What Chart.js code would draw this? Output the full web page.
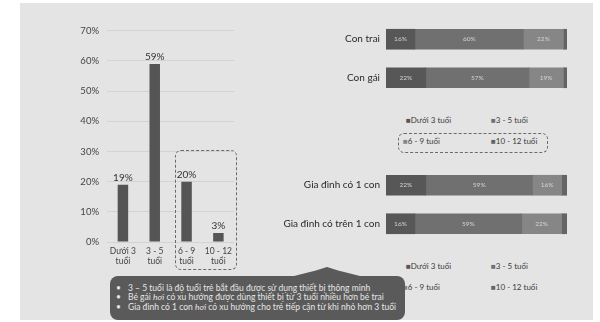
<!DOCTYPE html>
<html>
<head>
<meta charset="utf-8">
<script src="https://cdn.jsdelivr.net/npm/chart.js"></script>
<style>
  body { margin: 0; background: #fff; font-family: Lato, "Noto Sans", sans-serif; }
  #panel { position: absolute; left: 20px; top: 3px; width: 573px; height: 317px; background: #e4e4e4; }
  .box { position: absolute; }
  .dash { position: absolute; border: 1px dashed #6a6a6a; border-radius: 6px; }
  .legend { position: absolute; font-size: 8px; color: #3a3a3a; white-space: nowrap; }
  .legend span { position: absolute; }
  .legend i { font-style: normal; }
  #callout { position: absolute; left: 110px; top: 276px; width: 295px; height: 44px; background: #5a5a5a;
             border-radius: 8px; color: #e6e6e6; font-size: 8.5px; line-height: 9.6px; padding-top: 7.5px; box-sizing: border-box; }
  #callout div { position: relative; padding-left: 18px; white-space: nowrap; }
  #callout div b { position: absolute; left: 6px; font-weight: normal; }
  #pointer { position: absolute; left: 290px; top: 267px; width: 74px; height: 10px; background: #5a5a5a;
             clip-path: polygon(0 100%, 35% 35%, 50% 0, 65% 35%, 100% 100%); }
</style>
</head>
<body>
<div id="panel"></div>

<div class="box" style="left:60px;top:17px;width:176px;height:253px"><canvas id="ages"></canvas></div>
<div class="box" style="left:270px;top:8px;width:297px;height:101px"><canvas id="gender"></canvas></div>
<div class="box" style="left:270px;top:154px;width:297px;height:101px"><canvas id="family"></canvas></div>

<div class="dash" style="left:175px;top:150px;width:60px;height:118px"></div>
<div class="dash" style="left:398px;top:133px;width:148px;height:18px"></div>

<div class="legend" id="legend1" style="left:403px;top:115px"></div>
<div class="legend" id="legend2" style="left:403px;top:261px"></div>

<div id="pointer"></div>
<div id="callout">
  <div><b>•</b>3 – 5 tuổi là độ tuổi trẻ bắt đầu được sử dụng thiết bị thông minh</div>
  <div><b>•</b>Bé gái <em>hơi</em> có xu hướng được dùng thiết bị từ 3 tuổi nhiều hơn bé trai</div>
  <div><b>•</b>Gia đình có 1 con <em>hơi</em> có xu hướng cho trẻ tiếp cận từ khi nhỏ hơn 3 tuổi</div>
</div>

<script>
// left chart: share of kids by age at first use
const ageGroups = ['Dưới 3 tuổi', '3 - 5 tuổi', '6 - 9 tuổi', '10 - 12 tuổi'];
const ageTicks = [['Dưới 3', 'tuổi'], ['3 - 5', 'tuổi'], ['6 - 9', 'tuổi'], ['10 - 12', 'tuổi']];
const ageShare = [19, 59, 20, 3];
const ageAxisMax = 70;
const ageAxisStep = 10;

// right charts: stacked shares
const genderGroups = ['Con trai', 'Con gái'];
const genderUnder3 = [16, 22];
const gender3to5 = [60, 57];
const gender6to9 = [22, 19];
const gender10to12 = [2, 2];

const familyGroups = ['Gia đình có 1 con', 'Gia đình có trên 1 con'];
const familyUnder3 = [22, 16];
const family3to5 = [59, 59];
const family6to9 = [16, 22];
const family10to12 = [3, 3];

const segColors = ['#575757', '#707070', '#868686', '#646464'];

Chart.defaults.font.family = 'Lato, "Noto Sans", sans-serif';
Chart.defaults.animation = false;

const valueLabels = {
  id: 'valueLabels',
  afterDatasetsDraw(chart, args, opts) {
    const ctx = chart.ctx;
    ctx.save();
    chart.data.datasets.forEach((ds, di) => {
      chart.getDatasetMeta(di).data.forEach((bar, i) => {
        const v = ds.data[i];
        if (opts.inside) {
          if (v < 5) return;
          ctx.font = '6.5px Lato, sans-serif';
          ctx.fillStyle = '#d4d4d4';
          ctx.textAlign = 'center';
          ctx.textBaseline = 'middle';
          ctx.fillText(v + '%', (bar.base + bar.x) / 2, bar.y);
        } else {
          ctx.font = '10px Lato, sans-serif';
          ctx.fillStyle = '#333';
          ctx.textAlign = 'center';
          ctx.textBaseline = 'bottom';
          ctx.fillText(v + '%', bar.x, bar.y - 2);
        }
      });
    });
    ctx.restore();
  }
};

new Chart(document.getElementById('ages'), {
  type: 'bar',
  data: {
    labels: ageTicks,
    datasets: [{ data: ageShare, backgroundColor: '#555', barPercentage: 0.33, categoryPercentage: 1 }]
  },
  options: {
    responsive: true,
    maintainAspectRatio: false,
    layout: { padding: { top: 10, right: 0, left: 0, bottom: 0 } },
    plugins: { legend: { display: false }, tooltip: { enabled: false }, valueLabels: {} },
    scales: {
      x: {
        grid: { display: false, drawTicks: false },
        border: { display: false },
        ticks: { color: '#444', font: { size: 8.5 }, padding: 4, maxRotation: 0 },
        afterFit: s => { s.height = 28; }
      },
      y: {
        min: 0, max: ageAxisMax,
        grid: { color: '#d3d3d3', drawTicks: false },
        border: { display: false },
        ticks: { stepSize: ageAxisStep, color: '#444', font: { size: 9.5 }, padding: 8, callback: v => v + '%' },
        afterFit: s => { s.width = 47; }
      }
    }
  },
  plugins: [valueLabels]
});

function stacked(id, groups, series) {
  new Chart(document.getElementById(id), {
    type: 'bar',
    data: {
      labels: groups,
      datasets: series.map((d, i) => ({ label: ageGroups[i], data: d, backgroundColor: segColors[i], barThickness: 20 }))
    },
    options: {
      indexAxis: 'y',
      responsive: true,
      maintainAspectRatio: false,
      layout: { padding: 0 },
      plugins: { legend: { display: false }, tooltip: { enabled: false }, valueLabels: { inside: true } },
      scales: {
        x: { stacked: true, display: false, min: 0, max: 100 },
        y: {
          stacked: true,
          grid: { display: false, drawTicks: false },
          border: { display: false },
          ticks: { color: '#2a2a2a', font: { size: 10 }, padding: 6 },
          afterFit: s => { s.width = 116; }
        }
      }
    },
    plugins: [valueLabels]
  });
}

stacked('gender', genderGroups, [genderUnder3, gender3to5, gender6to9, gender10to12]);
stacked('family', familyGroups, [familyUnder3, family3to5, family6to9, family10to12]);

function legend(id) {
  const el = document.getElementById(id);
  const pos = [[3, 0], [88, 0], [0, 21], [88, 21]];
  ageGroups.forEach((g, i) => {
    const s = document.createElement('span');
    s.style.left = pos[i][0] + 'px';
    s.style.top = pos[i][1] + 'px';
    s.innerHTML = `<i style="color:${segColors[i]}">■</i>${g}`;
    el.appendChild(s);
  });
}
legend('legend1');
legend('legend2');
</script>
</body>
</html>
